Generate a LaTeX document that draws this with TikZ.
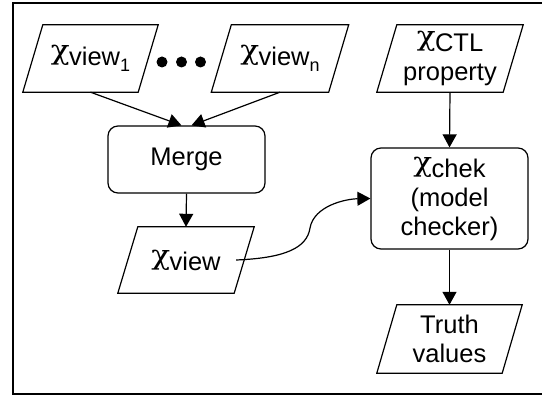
\documentclass[tikz,border=0pt]{standalone}
\usepackage{fontspec}
\setmainfont{Liberation Sans}
\newfontfamily\chifont{DejaVu Serif}
\usetikzlibrary{arrows.meta}
\newcommand{\xchi}{{\chifont\fontsize{27}{27}\selectfont\raisebox{6pt}{\scalebox{1.15}[1]{χ}}}\hspace{-0.5pt}}
\newcommand{\xsub}[1]{\raisebox{-6pt}{\fontsize{18}{18}\selectfont #1}}
\tikzset{
  para/.style={minimum height=67pt, inner sep=0pt, align=center,
    append after command={\pgfextra{\draw[line width=1.2pt]
      ([xshift=10pt]\tikzlastnode.north west) -- ([xshift=10pt]\tikzlastnode.north east) --
      ([xshift=-10pt]\tikzlastnode.south east) -- ([xshift=-10pt]\tikzlastnode.south west) -- cycle;}}},
  rbox/.style={draw, line width=1.2pt, rounded corners=10pt, minimum width=157pt, inner sep=0pt, align=center},
  conn/.style={line width=1.2pt, -{Triangle[length=13pt,width=14pt]}}
}
\begin{document}
\begin{tikzpicture}[x=1pt,y=-1pt,font=\fontsize{25.5}{29}\selectfont]
\useasboundingbox (0,0) rectangle (542,395);
\draw[line width=2pt] (542,3) -- (13,3) -- (13,394) -- (542,394);
\node[para, minimum width=115pt] (v1) at (90.5,58.5) {\xchi view\xsub{1}};
\node[para, minimum width=117pt] (vn) at (280,58.5) {\xchi view\xsub{n}};
\node[para, minimum width=126pt] (ctl) at (450,58.5) {\xchi CTL\\property};
\node[rbox, minimum height=67pt] (merge) at (186.5,159.5) {Merge};
\node[para, minimum width=116pt, minimum height=66pt] (view) at (186,260) {\xchi view};
\node[rbox, minimum height=101pt] (chek) at (449.5,198.5) {\xchi chek\\(model\\checker)};
\node[para, minimum width=125pt, minimum height=68pt] (truth) at (449.5,339) {Truth\\values};
\fill (162,62) circle (5.5pt) (181.5,62) circle (5.5pt) (200.5,62) circle (5.5pt);
\draw[conn] (v1.south) -- ([xshift=-5pt]merge.north);
\draw[conn] (vn.south) -- ([xshift=5pt]merge.north);
\draw[conn] (merge.south) -- (view.north);
\draw[conn] (ctl.south) -- (chek.north);
\draw[conn] (chek.south) -- (truth.north);
\draw[conn] ([xshift=-8pt]view.east) .. controls (285,258) and (307,248) .. (310,228) .. controls (314,206) and (345,199) .. (chek.west);
\end{tikzpicture}
\end{document}
